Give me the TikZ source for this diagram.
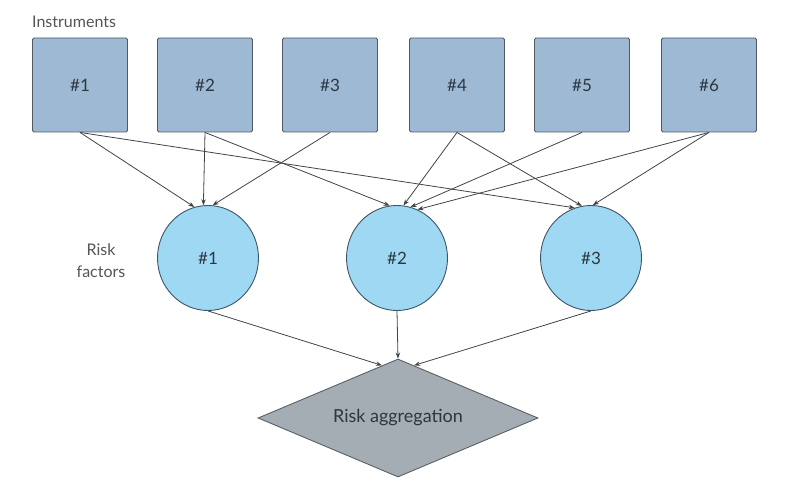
\documentclass[tikz,border=0pt]{standalone}
\usepackage{fontspec}
\setmainfont{Lato}
\usetikzlibrary{shapes.geometric,arrows.meta,calc}
\definecolor{boxfill}{HTML}{9DB9D3}
\definecolor{boxline}{HTML}{505A64}
\definecolor{rffill}{HTML}{9ED8F2}
\definecolor{rfline}{HTML}{3E5566}
\definecolor{aggfill}{HTML}{A4ADB4}
\definecolor{aggline}{HTML}{5A6066}
\definecolor{txt}{HTML}{2C3640}
\definecolor{lbl}{HTML}{555555}
\definecolor{edge}{HTML}{404448}
\tikzset{
  instr/.style={draw=boxline, fill=boxfill, line width=0.9pt, rounded corners=1.5pt,
    minimum width=95pt, minimum height=94pt, inner sep=0pt, text=txt, font=\fontsize{17}{19}\selectfont},
  rfnode/.style={ellipse, draw=rfline, fill=rffill, line width=0.9pt,
    minimum width=101pt, minimum height=105pt, inner sep=0pt, text=txt, font=\fontsize{17}{19}\selectfont},
  aggnode/.style={diamond, draw=aggline, fill=aggfill, line width=0.9pt,
    minimum width=280pt, minimum height=118pt, inner sep=0pt},
  aggtext/.style={text=txt, font=\fontsize{18}{20}\selectfont, inner sep=0pt},
  lab/.style={text=lbl, font=\fontsize{16}{22}\selectfont, align=center, inner sep=0pt},
  conn/.style={draw=edge, line width=0.8pt, -{Stealth[length=6pt,width=4.5pt]}},
}
\begin{document}
\begin{tikzpicture}[x=1pt,y=-1pt]
\useasboundingbox (0,0) rectangle (791,497);
\node[lab, anchor=west] (ilab) at (32,22) {Instruments};
\node[instr] (i1) at (80,85) {\#1};
\node[instr] (i2) at (205,85) {\#2};
\node[instr] (i3) at (330,85) {\#3};
\node[instr] (i4) at (457,85) {\#4};
\node[instr] (i5) at (582,85) {\#5};
\node[instr] (i6) at (709,85) {\#6};
\node[lab] (rlab) at (101,261) {Risk\\factors};
\node[rfnode] (r1) at (208,258) {\#1};
\node[rfnode] (r2) at (397,258) {\#2};
\node[rfnode] (r3) at (591,258) {\#3};
\node[aggnode] (agg) at (398,418) {};
\node[aggtext] (aggt) at (agg.center) {Risk aggregation};
% instruments -> risk factors
\draw[conn] (i1.south) -- (r1.105);
\draw[conn] (i2.south) -- (r1.95);
\draw[conn] (i3.south) -- (r1.85);
\draw[conn] (i1.south) -- (r3.108);
\draw[conn] (i2.south) -- (r2.98);
\draw[conn] (i4.south) -- (r2.83);
\draw[conn] (i5.south) -- (r2.75);
\draw[conn] (i6.south) -- (r2.67);
\draw[conn] (i4.south) -- (r3.100);
\draw[conn] (i6.south) -- (r3.88);
% risk factors -> aggregation
\draw[conn] (r1.south) -- (agg.107);
\draw[conn] (r2.south) -- (agg.north);
\draw[conn] (r3.south) -- (agg.73);
\end{tikzpicture}
\end{document}
